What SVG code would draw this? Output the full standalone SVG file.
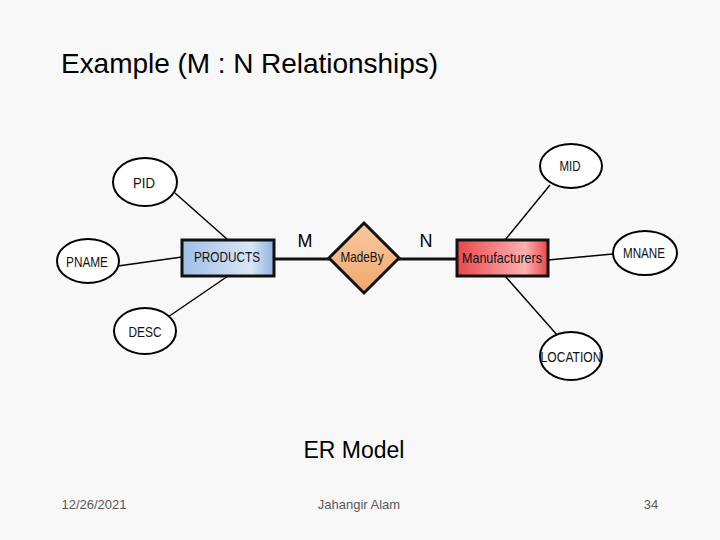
<svg xmlns="http://www.w3.org/2000/svg" width="720" height="540" viewBox="0 0 720 540">
<style>
.t{font-family:"Liberation Sans",Arial,sans-serif;fill:#000}
.a{fill:#fff;stroke:#000;stroke-width:2}
.at{font-family:"Liberation Sans",Arial,sans-serif;font-size:15px;text-anchor:middle;fill:#111}
.l{stroke:#000;stroke-width:1.5}
.e{stroke:#111;stroke-width:3}
.f{font-family:"Liberation Sans",Arial,sans-serif;font-size:13px;text-anchor:middle;fill:#5a5a5a}
</style>
<defs>
<linearGradient id="gb" x1="0" x2="1"><stop offset="0" stop-color="#9fbfe6"/><stop offset="0.75" stop-color="#d9e6f7"/><stop offset="1" stop-color="#8fb2e0"/></linearGradient>
<linearGradient id="gr" x1="0" x2="1"><stop offset="0" stop-color="#e8484c"/><stop offset="0.75" stop-color="#ffb0b0"/><stop offset="1" stop-color="#e84848"/></linearGradient>
<linearGradient id="go" x1="0" y1="0" x2="0" y2="1"><stop offset="0" stop-color="#f8c9a0"/><stop offset="1" stop-color="#f1a86b"/></linearGradient>
</defs>
<rect width="720" height="540" fill="#f8f8f8"/>
<text class="t" x="61" y="73" font-size="28" textLength="377">Example (M : N Relationships)</text>
<g id="connectors">
<line class="l" x1="175" y1="193" x2="228" y2="240"/>
<line class="l" x1="118" y1="266" x2="182" y2="257"/>
<line class="l" x1="168" y1="317" x2="228" y2="276"/>
<line class="l" x1="550" y1="185" x2="505" y2="240"/>
<line class="l" x1="613" y1="254" x2="548" y2="260"/>
<line class="l" x1="558" y1="336" x2="505" y2="276"/>
<line class="e" x1="274" y1="259" x2="330" y2="259"/>
<line class="e" x1="398" y1="259" x2="457" y2="259"/>
</g>
<text class="t" x="305" y="247" font-size="18" text-anchor="middle">M</text>
<text class="t" x="426" y="247" font-size="18" text-anchor="middle">N</text>
<g id="products"><rect x="182" y="240" width="92" height="36" fill="url(#gb)" stroke="#111" stroke-width="3"/><text class="at" x="227" y="262" textLength="66" lengthAdjust="spacingAndGlyphs">PRODUCTS</text></g>
<g id="madeby"><polygon points="364,223 399,258 364,293 329,258" fill="url(#go)" stroke="#111" stroke-width="3"/><text class="at" x="362" y="262" textLength="43" lengthAdjust="spacingAndGlyphs">MadeBy</text></g>
<g id="manufacturers"><rect x="457" y="240" width="91" height="36" fill="url(#gr)" stroke="#111" stroke-width="3"/><text class="at" x="502" y="263" textLength="80" lengthAdjust="spacingAndGlyphs">Manufacturers</text></g>
<g id="pid"><ellipse class="a" cx="145" cy="182" rx="32" ry="24"/><text class="at" x="144" y="188" textLength="22" lengthAdjust="spacingAndGlyphs">PID</text></g>
<g id="pname"><ellipse class="a" cx="88" cy="261" rx="31" ry="22"/><text class="at" x="87" y="267" textLength="42" lengthAdjust="spacingAndGlyphs">PNAME</text></g>
<g id="desc"><ellipse class="a" cx="145" cy="331" rx="31" ry="23"/><text class="at" x="145" y="337" textLength="33" lengthAdjust="spacingAndGlyphs">DESC</text></g>
<g id="mid"><ellipse class="a" cx="571" cy="166" rx="31" ry="22"/><text class="at" x="570" y="171" textLength="21" lengthAdjust="spacingAndGlyphs">MID</text></g>
<g id="mnane"><ellipse class="a" cx="645" cy="253" rx="32" ry="22"/><text class="at" x="644" y="258" textLength="42" lengthAdjust="spacingAndGlyphs">MNANE</text></g>
<g id="location"><ellipse class="a" cx="571" cy="356" rx="31" ry="24"/><text class="at" x="571" y="362" textLength="61" lengthAdjust="spacingAndGlyphs">LOCATION</text></g>
<text class="t" x="354" y="458" font-size="23" text-anchor="middle">ER Model</text>
<text class="f" x="94" y="509">12/26/2021</text>
<text class="f" x="359" y="509">Jahangir Alam</text>
<text class="f" x="651" y="509">34</text>
</svg>
